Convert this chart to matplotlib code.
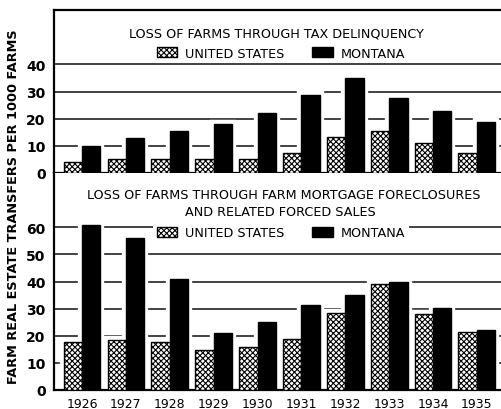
import matplotlib.pyplot as plt
import numpy as np

years = ["1926", "1927", "1928", "1929", "1930", "1931", "1932", "1933", "1934", "1935"]

# loss through tax delinquency (per 1000 farms)
tax_us = [4, 5, 5, 5, 5, 7.3, 13.3, 15.3, 11.2, 7.3]
tax_mt = [10, 13, 15.5, 18, 22, 28.7, 34.8, 27.7, 22.7, 18.8]

# loss through mortgage foreclosures and forced sales
fc_us = [17.7, 18.3, 17.7, 14.9, 15.8, 18.9, 28.5, 39, 28.1, 21.4]
fc_mt = [61, 56, 41, 21, 25, 31.2, 34.9, 39.9, 30.4, 22.2]

plt.rcParams['hatch.linewidth'] = 0.8

fig = plt.figure(figsize=(5.01, 4.10), dpi=100)
L, R = 54 / 501, 1.0
ax1 = fig.add_axes([L, 1 - 174 / 410, R - L, 163 / 410])
ax2 = fig.add_axes([L, 1 - 391 / 410, R - L, 217 / 410])

x = np.arange(len(years))
w = 0.42


def draw(ax, us, mt, ymax, ticks):
    # white halo so gridlines stop short of the bars
    ax.bar(x - w / 2, us, w, color="white", edgecolor="white", linewidth=6, zorder=2)
    ax.bar(x + w / 2, mt, w, color="white", edgecolor="white", linewidth=6, zorder=2)
    b1 = ax.bar(x - w / 2, us, w, color="white", edgecolor="black", hatch="xxxxxx",
                linewidth=1.0, zorder=3)
    b2 = ax.bar(x + w / 2, mt, w, color="black", edgecolor="black", linewidth=1.0, zorder=3)
    for t in ticks[1:]:
        ax.axhline(t, color="#222222", lw=1.2, zorder=1)
    ax.set_ylim(0, ymax)
    ax.set_xlim(-0.64, 9.55)
    ax.set_yticks(ticks)
    ax.set_yticklabels([str(t) for t in ticks], fontweight="bold", fontsize=10)
    ax.tick_params(axis="y", length=0, pad=6)
    ax.spines["right"].set_visible(False)
    for s in ["left", "bottom", "top"]:
        ax.spines[s].set_linewidth(1.6)
    return b1, b2


h1 = draw(ax1, tax_us, tax_mt, 60, [0, 10, 20, 30, 40])
h2 = draw(ax2, fc_us, fc_mt, 80, [0, 10, 20, 30, 40, 50, 60])
ax1.set_xticks([])
ax2.set_xticks(x)
ax2.set_xticklabels(years, fontsize=9)
ax2.tick_params(axis="x", length=0, pad=5)
ax2.spines["top"].set_visible(False)

fig.text(0.026, 0.497, "FARM REAL ESTATE TRANSFERS PER 1000 FARMS", rotation=90,
         ha="center", va="center", fontweight="bold", fontsize=9.3)

tf = 9.2
fig.text(276 / 501, 1 - 34 / 410, "LOSS OF FARMS THROUGH TAX DELINQUENCY",
         ha="center", va="center", fontsize=tf)
fig.text(284 / 501, 1 - 196 / 410, "LOSS OF FARMS THROUGH FARM MORTGAGE FORECLOSURES",
         ha="center", va="center", fontsize=tf)
fig.text(280 / 501, 1 - 213 / 410, "AND RELATED FORCED SALES",
         ha="center", va="center", fontsize=tf)

for ax, h, yy in [(ax1, h1, 54), (ax2, h2, 234)]:
    leg = fig.legend(h, ["UNITED STATES", "MONTANA"], ncol=2, loc="center",
                     bbox_to_anchor=(281 / 501, 1 - yy / 410), fontsize=tf,
                     handlelength=1.6, handleheight=0.8, columnspacing=2.2,
                     handletextpad=0.6, frameon=True, fancybox=False,
                     borderpad=0.3)
    leg.get_frame().set_facecolor("white")
    leg.get_frame().set_edgecolor("none")
    leg.get_frame().set_alpha(1)

fig.savefig("out.png")
